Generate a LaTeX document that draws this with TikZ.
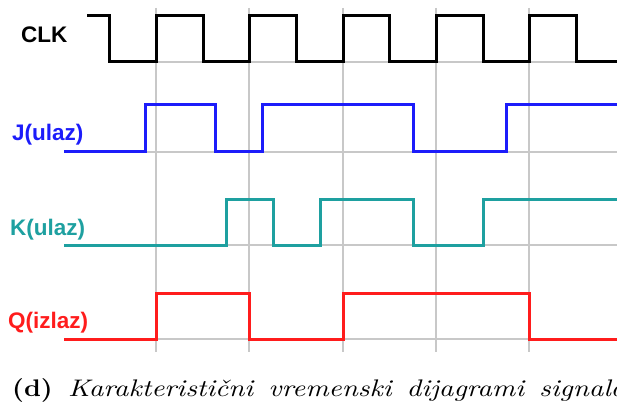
\documentclass[tikz,border=0pt]{standalone}
\usepackage{fontspec}
\newfontfamily\labelfont{Liberation Sans}
\definecolor{clkblack}{RGB}{0,0,0}
\definecolor{jblue}{RGB}{28,28,250}
\definecolor{kteal}{RGB}{30,160,160}
\definecolor{qred}{RGB}{255,28,28}
\definecolor{gridgrey}{RGB}{200,200,200}
\newcommand{\capgap}{\hspace{5.3pt}}
\begin{document}
\begin{tikzpicture}[x=1pt,y=-1pt,
  grid/.style={draw=gridgrey,line width=2pt},
  wave/.style={line width=3pt,line join=miter,line cap=butt},
  siglabel/.style={font=\labelfont\bfseries\fontsize{22.5}{22.5}\selectfont,anchor=base west,inner sep=0pt}]
\useasboundingbox (0,0) rectangle (617,403);
\clip (0,0) rectangle (617,403);

% grid: clock rising edges and low levels
\foreach \x in {156,249,343,436,529}
  \draw[grid] (\x,8) -- (\x,352);
\draw[grid] (109,62) -- (617,62);
\foreach \y in {152,245,339}
  \draw[grid] (64,\y) -- (617,\y);

% CLK
\draw[wave,clkblack] (87,16) -- (109,16) -- (109,62) -- (156,62) -- (156,16)
  -- (203,16) -- (203,62) -- (249,62) -- (249,16) -- (296,16) -- (296,62)
  -- (343,62) -- (343,16) -- (389,16) -- (389,62) -- (436,62) -- (436,16)
  -- (483,16) -- (483,62) -- (529,62) -- (529,16) -- (576,16) -- (576,62) -- (617,62);

% J input
\draw[wave,jblue] (64,152) -- (145,152) -- (145,105) -- (215,105) -- (215,152)
  -- (262,152) -- (262,105) -- (413,105) -- (413,152) -- (506,152) -- (506,105) -- (617,105);

% K input
\draw[wave,kteal] (64,245) -- (226,245) -- (226,199) -- (273,199) -- (273,245)
  -- (320,245) -- (320,199) -- (413,199) -- (413,245) -- (483,245) -- (483,199) -- (617,199);

% Q output
\draw[wave,qred] (64,339) -- (156,339) -- (156,293) -- (249,293) -- (249,339)
  -- (343,339) -- (343,293) -- (529,293) -- (529,339) -- (617,339);

% signal names
\node[siglabel,text=clkblack] (lclk) at (21,43) {CLK};
\node[siglabel,text=jblue] (lj) at (12,141) {J(ulaz)};
\node[siglabel,text=kteal] (lk) at (10,235) {K(ulaz)};
\node[siglabel,text=qred] (lq) at (8,328) {Q(izlaz)};

% caption
\node[anchor=base west,inner sep=0pt] (capmark) at (12,396)
  {\scalebox{2.65}[2.4]{\fontsize{10}{12}\selectfont\textbf{(d)}}};
\node[anchor=base west,inner sep=0pt] (captext) at (68,396)
  {\scalebox{2.86}[2.4]{\fontsize{10}{12}\selectfont\itshape
   Karakteristični\capgap vremenski\capgap dijagrami\capgap signala}};
\end{tikzpicture}
\end{document}
